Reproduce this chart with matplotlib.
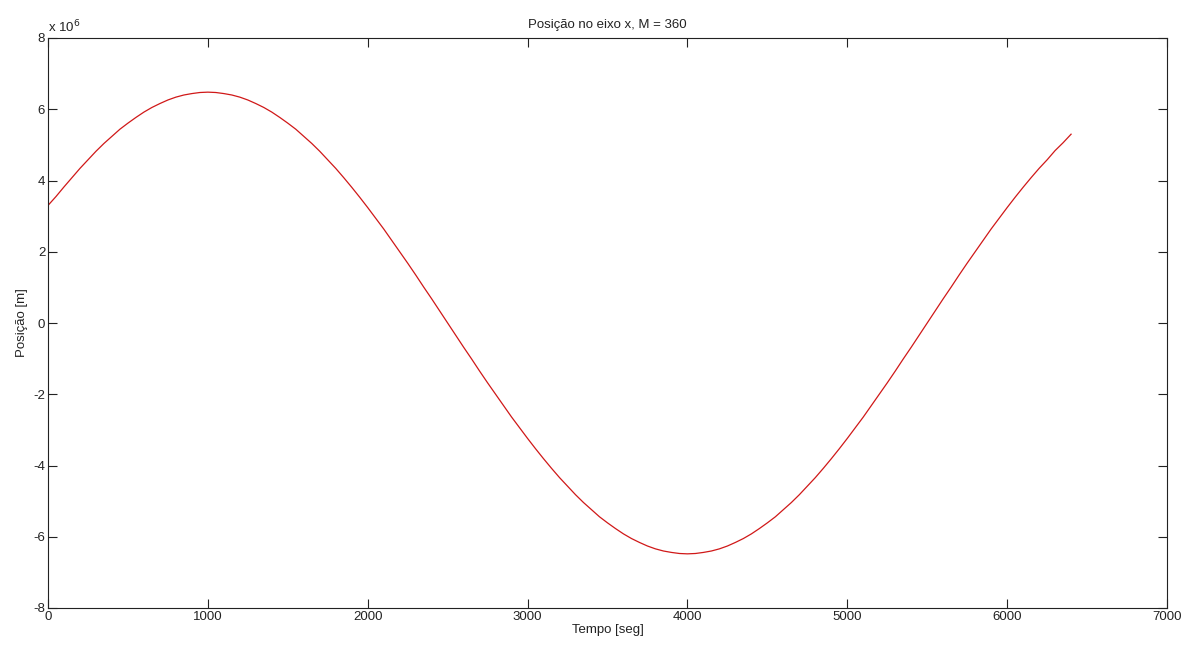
"""Posição no eixo x vs tempo (M = 360), MATLAB-style single panel."""

import matplotlib

matplotlib.use("Agg")
import matplotlib.pyplot as plt

# time samples [s] every 50 s and x-position [10^6 m]
tempo = list(range(0, 6401, 50))
posicao = [
    # 0 .. 1000 s
    3.30, 3.55, 3.82, 4.08, 4.34, 4.58, 4.82, 5.04, 5.24, 5.44,
    5.61, 5.77, 5.92, 6.05, 6.16, 6.26, 6.34, 6.40, 6.44, 6.47, 6.48,
    # 1050 .. 2500 s
    6.47, 6.44, 6.40, 6.34, 6.26, 6.16, 6.05, 5.92, 5.77, 5.61,
    5.44, 5.24, 5.04, 4.82, 4.58, 4.34, 4.08, 3.81, 3.53, 3.24,
    2.94, 2.64, 2.32, 2.00, 1.68, 1.35, 1.01, 0.68, 0.34, 0.00,
    # 2550 .. 4000 s
    -0.34, -0.68, -1.01, -1.35, -1.68, -2.00, -2.32, -2.64, -2.94, -3.24,
    -3.53, -3.81, -4.08, -4.34, -4.58, -4.82, -5.04, -5.24, -5.44, -5.61,
    -5.77, -5.92, -6.05, -6.16, -6.26, -6.34, -6.40, -6.44, -6.47, -6.48,
    # 4050 .. 5500 s
    -6.47, -6.44, -6.40, -6.34, -6.26, -6.16, -6.05, -5.92, -5.77, -5.61,
    -5.44, -5.24, -5.04, -4.82, -4.58, -4.34, -4.08, -3.81, -3.53, -3.24,
    -2.94, -2.64, -2.32, -2.00, -1.68, -1.35, -1.01, -0.68, -0.34, 0.00,
    # 5550 .. 6400 s
    0.34, 0.68, 1.01, 1.35, 1.68, 2.00, 2.32, 2.64, 2.94, 3.24,
    3.53, 3.81, 4.08, 4.34, 4.58, 4.84, 5.06, 5.30,
]
xticks = [0, 1000, 2000, 3000, 4000, 5000, 6000, 7000]
yticks = [-8, -6, -4, -2, 0, 2, 4, 6, 8]

plt.rcParams["font.family"] = ["Liberation Sans", "DejaVu Sans"]
plt.rcParams["font.size"] = 9.5
plt.rcParams["axes.unicode_minus"] = False

fig = plt.figure(figsize=(11.81, 6.46), dpi=100)
ax = fig.add_axes([48 / 1181, 1 - 608 / 646, (1167 - 48) / 1181, 570 / 646])

ax.plot(tempo, posicao, color="#d01818", lw=0.9)

ax.set_xlim(0, 7000)
ax.set_ylim(-8, 8)
ax.set_xticks(xticks)
ax.set_yticks(yticks)
ax.tick_params(direction="in", length=6.5, width=0.8, top=True, right=True,
               colors="#222222", labelsize=9.5, pad=2)
for s in ax.spines.values():
    s.set_linewidth(0.8)
    s.set_color("#222222")

ax.set_title("Posição no eixo x, M = 360", fontsize=9.5, pad=7, color="#222222")
ax.set_xlabel("Tempo [seg]", fontsize=9.5, labelpad=1, color="#222222")
ax.set_ylabel("Posição [m]", fontsize=9.5, labelpad=4, color="#222222")
ax.text(0.0, 1.005, "x 10$^{6}$", transform=ax.transAxes, fontsize=9.5,
        ha="left", va="bottom", color="#222222")

fig.savefig("out.png", dpi=100)
